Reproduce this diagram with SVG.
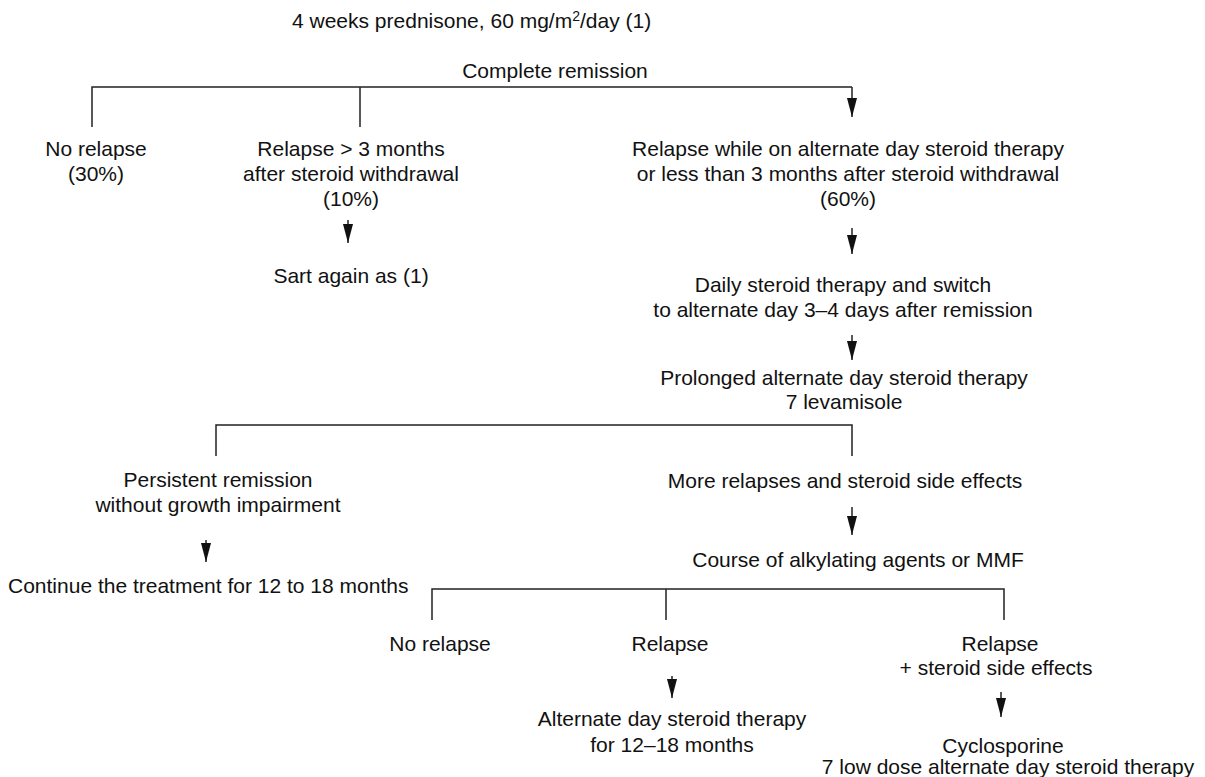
<svg xmlns="http://www.w3.org/2000/svg" width="1205" height="777" viewBox="0 0 1205 777">
<style>
text{font-family:"Liberation Sans",Arial,sans-serif;font-size:21px;fill:#111}
.c{text-anchor:middle}
.ln{fill:none;stroke:#222;stroke-width:1.5}
.ar{fill:none;stroke:#222;stroke-width:1.5;marker-end:url(#ah)}
</style>
<defs>
<marker id="ah" viewBox="0 0 19 10" refX="19" refY="5" markerWidth="19" markerHeight="10" markerUnits="userSpaceOnUse" orient="auto">
<path d="M0,0 L19,5 L0,10 z" fill="#111"/>
</marker>
</defs>
<rect width="1205" height="777" fill="#fff"/>
<g id="connectors">
<path class="ln" d="M92,127 V87 H852 M360,87 V127"/>
<path class="ar" d="M852,87 V117"/>
<path class="ar" d="M348,220 V243"/>
<path class="ar" d="M852,228 V254"/>
<path class="ar" d="M852,335 V360"/>
<path class="ln" d="M216,456 V425 H852 V456"/>
<path class="ar" d="M206,540 V562"/>
<path class="ar" d="M852,507 V535"/>
<path class="ln" d="M432,620 V589 H1004 V620 M666,589 V620"/>
<path class="ar" d="M672,676 V698"/>
<path class="ar" d="M1001,692 V717"/>
</g>
<g id="n-start"><text x="292" y="28">4 weeks prednisone, 60 mg/m<tspan dy="-7" font-size="14">2</tspan><tspan dy="7">/day (1)</tspan></text></g>
<g id="n-remission"><text class="c" x="555" y="78">Complete remission</text></g>
<g id="n-norelapse1"><text class="c" x="96" y="156">No relapse</text><text class="c" x="96" y="181">(30%)</text></g>
<g id="n-relapse3m"><text class="c" x="351" y="156">Relapse &gt; 3 months</text><text class="c" x="351" y="181">after steroid withdrawal</text><text class="c" x="351" y="206">(10%)</text></g>
<g id="n-sart"><text class="c" x="351" y="283">Sart again as (1)</text></g>
<g id="n-relapse-alt"><text class="c" x="848" y="156">Relapse while on alternate day steroid therapy</text><text class="c" x="848" y="181">or less than 3 months after steroid withdrawal</text><text class="c" x="848" y="206">(60%)</text></g>
<g id="n-daily"><text class="c" x="843" y="292">Daily steroid therapy and switch</text><text class="c" x="843" y="317">to alternate day 3–4 days after remission</text></g>
<g id="n-prolonged"><text class="c" x="844" y="385">Prolonged alternate day steroid therapy</text><text class="c" x="844" y="409">7 levamisole</text></g>
<g id="n-persistent"><text class="c" x="218" y="487">Persistent remission</text><text class="c" x="218" y="512">without growth impairment</text></g>
<g id="n-continue"><text x="8" y="593">Continue the treatment for 12 to 18 months</text></g>
<g id="n-more"><text class="c" x="845" y="488">More relapses and steroid side effects</text></g>
<g id="n-course"><text class="c" x="858" y="567">Course of alkylating agents or MMF</text></g>
<g id="n-norelapse2"><text class="c" x="440" y="651">No relapse</text></g>
<g id="n-relapse2"><text class="c" x="670" y="651">Relapse</text></g>
<g id="n-relapse-side"><text class="c" x="1000" y="651">Relapse</text><text class="c" x="996" y="675">+ steroid side effects</text></g>
<g id="n-altday"><text class="c" x="672" y="726">Alternate day steroid therapy</text><text class="c" x="672" y="752">for 12–18 months</text></g>
<g id="n-cyclo"><text class="c" x="1003" y="753">Cyclosporine</text><text class="c" x="1008" y="774">7 low dose alternate day steroid therapy</text></g>
</svg>
